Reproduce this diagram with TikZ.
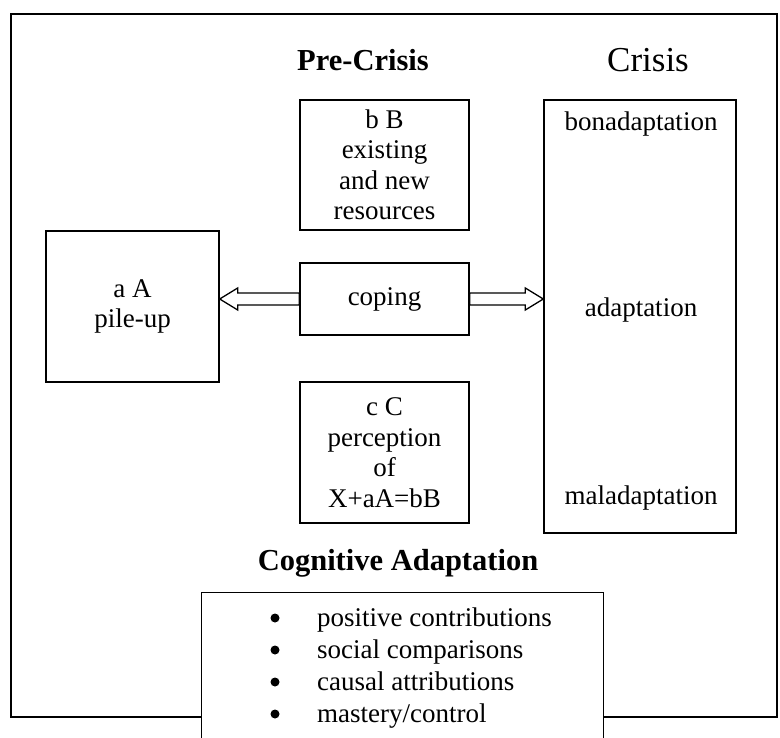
\documentclass[tikz,border=0pt]{standalone}
\usepackage{fontspec}
\setmainfont{Liberation Serif}
\usetikzlibrary{calc}
\begin{document}
\begin{tikzpicture}[x=1pt,y=-1pt,
  box/.style={draw,line width=1.4pt,inner sep=0pt,align=center,fill=white,
    font=\fontsize{27}{30.5}\selectfont},
  txt/.style={inner sep=0pt,font=\fontsize{27}{30.5}\selectfont},
  ttlbold/.style={inner sep=0pt,font=\bfseries\fontsize{30.5}{34}\selectfont},
  ttlreg/.style={inner sep=0pt,font=\fontsize{35}{40}\selectfont},
  dotmark/.style={circle,fill,inner sep=0pt,minimum size=9pt},
  harrow/.style={draw,line width=1.3pt,fill=white,line join=miter}]
\clip (0,0) rectangle (780,738);
\fill[white] (0,0) rectangle (780,738);
% outer frame
\draw[line width=1.2pt] (11,14) rectangle (777,717);

% titles
\node[ttlbold] (pre) at (363,60) {Pre-Crisis};
\node[ttlreg] (crisisT) at (648,60) {Crisis};
\node[ttlbold] (cog) at (398,563) {Cognitive Adaptation};

% boxes
\node[box, minimum width=173, minimum height=151] (aA) at (132.5,306.5) {a A\\pile-up};
\node[box, minimum width=169, minimum height=130] (bB) at (384.5,165) {b B\\existing\\and new\\resources};
\node[box, minimum width=169, minimum height=72] (coping) at (384.5,299) {coping};
\node[box, minimum width=169, minimum height=141] (cC) at (384.5,452.5) {c C\\perception\\of\\X+aA=bB};
\node[box, minimum width=192, minimum height=433] (crisis) at (640,316.5) {};
\node[txt] (bon) at (641,124) {bonadaptation};
\node[txt] (ada) at (641,310) {adaptation};
\node[txt] (mal) at (641,498) {maladaptation};

% bullet box (runs off the bottom edge)
\node[box, minimum width=402, minimum height=170, anchor=north west] (cogbox) at (201,592) {};
\foreach \i/\t in {0/{positive contributions},1/{social comparisons},2/{causal attributions},3/{mastery/control}}{
  \node[dotmark] (b\i) at (275,{618+32*\i}) {};
  \node[txt, anchor=base west] (t\i) at (317,{626+32*\i}) {\t};
}

% hollow arrows
\coordinate (rt) at (crisis.west |- coping.east);
\coordinate (lt) at (aA.east |- coping.west);
\draw[harrow] ($(coping.east)+(0,-6)$) -- ($(rt)+(-18,-6)$) -- ++(0,-5) -- (rt)
  -- ($(rt)+(-18,11)$) -- ++(0,-5) -- ($(coping.east)+(0,6)$) -- cycle;
\draw[harrow] ($(coping.west)+(0,-6)$) -- ($(lt)+(18,-6)$) -- ++(0,-5) -- (lt)
  -- ($(lt)+(18,11)$) -- ++(0,-5) -- ($(coping.west)+(0,6)$) -- cycle;
\end{tikzpicture}
\end{document}
